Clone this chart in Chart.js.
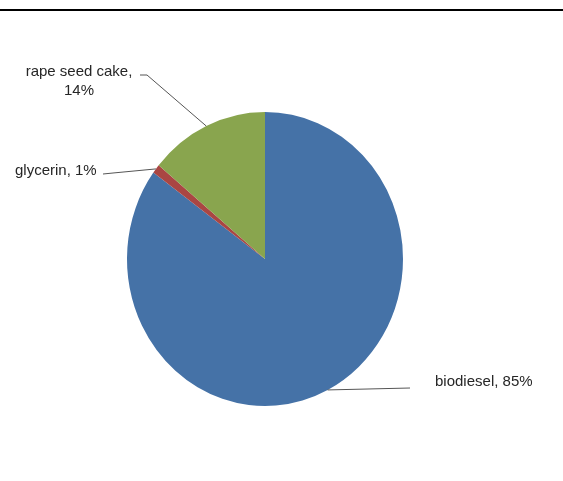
<!DOCTYPE html>
<html>
<head>
<meta charset="utf-8">
<script src="https://cdn.jsdelivr.net/npm/chart.js@4"></script>
<style>
  html, body { margin: 0; padding: 0; background: #fff; }
  #wrap { position: relative; width: 563px; height: 481px; }
  #topLine { position: absolute; left: 0; top: 9px; width: 563px; height: 2px; background: #000; }
  #pieCanvas { position: absolute; left: 0; top: 0; }
</style>
</head>
<body>
<div id="wrap">
  <canvas id="pieCanvas" width="563" height="481"></canvas>
  <div id="topLine"></div>
</div>
<script>
const labels = ['biodiesel', 'glycerin', 'rape seed cake'];
const shares = [85, 1, 14];
const colors = ['#4572A7', '#AA4643', '#89A54E'];

// pie is slightly taller than wide in the original
const yStretch = 1.065;

// where each label text sits, and where its leader line bends
const labelSpots = [
  { lines: ['biodiesel, 85%'], x: 435, y: 382, align: 'left', end: [410, 388] },
  { lines: ['glycerin, 1%'], x: 15, y: 171, align: 'left', end: [103, 174], mid: [113, 173] },
  { lines: ['rape seed cake,', '14%'], x: 79, y: 72, align: 'center', end: [140, 75], mid: [147, 75] }
];

const stretchPlugin = {
  id: 'stretch',
  beforeDatasetsDraw: (chart) => {
    const arc = chart.getDatasetMeta(0).data[0];
    const ctx = chart.ctx;
    ctx.save();
    ctx.translate(arc.x, arc.y);
    ctx.scale(1, yStretch);
    ctx.translate(-arc.x, -arc.y);
  },
  afterDatasetsDraw: (chart) => {
    const ctx = chart.ctx;
    ctx.restore();

    const arcs = chart.getDatasetMeta(0).data;
    ctx.save();
    ctx.font = '15px "Liberation Sans", Arial, sans-serif';
    ctx.fillStyle = '#262626';
    ctx.textBaseline = 'middle';
    for (let i = 0; i < arcs.length; i++) {
      const a = arcs[i];
      const spot = labelSpots[i];
      const ang = (a.startAngle + a.endAngle) / 2;
      const px = a.x + Math.cos(ang) * a.outerRadius;
      const py = a.y + Math.sin(ang) * a.outerRadius * yStretch;

      ctx.strokeStyle = '#555';
      ctx.lineWidth = 1;
      ctx.beginPath();
      ctx.moveTo(px, py);
      if (spot.mid) {
        ctx.lineTo(spot.mid[0], spot.mid[1]);
      }
      ctx.lineTo(spot.end[0], spot.end[1]);
      ctx.stroke();

      ctx.textAlign = spot.align;
      for (let j = 0; j < spot.lines.length; j++) {
        ctx.fillText(spot.lines[j], spot.x, spot.y + j * 19);
      }
    }
    ctx.restore();
  }
};

const data = {
  labels: labels,
  datasets: [
    {
      data: shares,
      backgroundColor: colors,
      borderWidth: 0,
      clip: false
    }
  ]
};

const config = {
  type: 'pie',
  data: data,
  options: {
    responsive: false,
    animation: false,
    rotation: 0,
    layout: {
      padding: { left: 127, right: 160, top: 121, bottom: 84 }
    },
    plugins: {
      legend: { display: false },
      tooltip: { enabled: false }
    }
  },
  plugins: [stretchPlugin]
};

const myChart = new Chart(document.getElementById('pieCanvas'), config);
</script>
</body>
</html>
